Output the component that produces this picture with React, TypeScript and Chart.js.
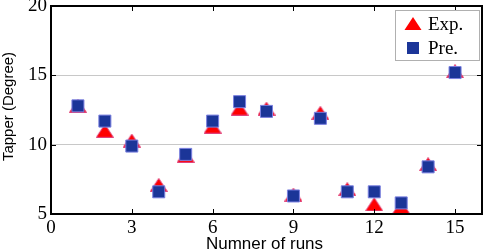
import React, { useEffect, useRef } from "react";
import { Chart, registerables } from "chart.js";

Chart.register(...registerables);

const runs = [1, 2, 3, 4, 5, 6, 7, 8, 9, 10, 11, 12, 13, 14, 15];
const expValues = [12.8, 11.0, 10.3, 7.1, 9.2, 11.3, 12.6, 12.6, 6.4, 12.3, 6.8, 5.7, 5.5, 8.6, 15.3];
const preValues = [12.8, 11.7, 9.9, 6.6, 9.3, 11.7, 13.1, 12.4, 6.3, 11.9, 6.6, 6.6, 5.8, 8.4, 15.2];
const xTicks = [0, 3, 6, 9, 12, 15];
const yTicks = [5, 10, 15, 20];
const legendLabels = ["Exp.", "Pre."];
const xTitle = "Numner of runs";
const yTitle = "Tapper (Degree)";

const RED = "#ff0000";
const BLUE = "#1b3598";
const EDGE = "#7b80e0";
const SERIF = "'Liberation Serif', 'Times New Roman', serif";
const SANS = "'Liberation Sans', Arial, sans-serif";

function makeTriangle(): HTMLCanvasElement {
  const c = document.createElement("canvas");
  c.width = 18;
  c.height = 14;
  const g = c.getContext("2d")!;
  g.beginPath();
  g.moveTo(9, 0.5);
  g.lineTo(17.5, 13.5);
  g.lineTo(0.5, 13.5);
  g.closePath();
  g.fillStyle = RED;
  g.fill();
  g.strokeStyle = "#e0407a";
  g.lineWidth = 1;
  g.stroke();
  return c;
}

const framePlugin = {
  id: "frame",
  afterDraw(chart: any) {
    const { ctx, chartArea: a, scales } = chart;
    ctx.save();
    ctx.strokeStyle = "#000";
    ctx.lineWidth = 1;
    ctx.beginPath();
    yTicks.forEach((v) => {
      const y = Math.round(scales.y.getPixelForValue(v)) + 0.5;
      ctx.moveTo(a.left, y);
      ctx.lineTo(a.left + 5, y);
      ctx.moveTo(a.right, y);
      ctx.lineTo(a.right - 5, y);
    });
    xTicks.forEach((v) => {
      const x = Math.round(scales.x.getPixelForValue(v)) + 0.5;
      ctx.moveTo(x, a.bottom);
      ctx.lineTo(x, a.bottom - 5);
      ctx.moveTo(x, a.top);
      ctx.lineTo(x, a.top + 5);
    });
    ctx.stroke();
    ctx.lineWidth = 2;
    ctx.strokeRect(a.left, a.top, a.right - a.left, a.bottom - a.top);
    // legend
    const lx = 395, ly = 10, lw = 84, lh = 50;
    ctx.fillStyle = "#fff";
    ctx.fillRect(lx, ly, lw, lh);
    ctx.lineWidth = 1;
    ctx.strokeStyle = "#b0b0b0";
    ctx.strokeRect(lx + 0.5, ly + 0.5, lw, lh);
    const tx = 413, ty = 24;
    ctx.beginPath();
    ctx.moveTo(tx, ty - 7);
    ctx.lineTo(tx + 8.5, ty + 6);
    ctx.lineTo(tx - 8.5, ty + 6);
    ctx.closePath();
    ctx.fillStyle = RED;
    ctx.fill();
    const sx = 413, sy = 48, s = 6;
    ctx.fillStyle = BLUE;
    ctx.fillRect(sx - s, sy - s, 2 * s, 2 * s);
    ctx.fillStyle = "#000";
    ctx.font = "19px " + SERIF;
    ctx.textBaseline = "middle";
    ctx.textAlign = "left";
    ctx.fillText(legendLabels[0], 428, 25);
    ctx.fillText(legendLabels[1], 428, 49);
    // axis titles
    ctx.font = "17px " + SANS;
    ctx.textAlign = "center";
    ctx.textBaseline = "alphabetic";
    ctx.fillText(xTitle, (a.left + a.right) / 2 - 2, 249);
    ctx.save();
    ctx.translate(13, 106.5);
    ctx.rotate(-Math.PI / 2);
    ctx.font = "15px " + SANS;
    ctx.fillText(yTitle, 0, 0);
    ctx.restore();
    ctx.restore();
  },
};

export default function App() {
  const ref = useRef<HTMLCanvasElement>(null);
  useEffect(() => {
    document.body.style.margin = "0";
    const tri = makeTriangle();
    const chart = new Chart(ref.current!, {
      type: "scatter",
      data: {
        datasets: [
          {
            label: legendLabels[0],
            data: runs.map((x, i) => ({ x, y: expValues[i] })),
            pointStyle: tri as any,
            pointRadius: 9,
            pointHoverRadius: 9,
            backgroundColor: RED,
            borderColor: "#e0407a",
            borderWidth: 1,
            order: 2,
          },
          {
            label: legendLabels[1],
            data: runs.map((x, i) => ({ x, y: preValues[i] })),
            pointStyle: "rect",
            pointRadius: 8.5,
            pointHoverRadius: 8.5,
            backgroundColor: BLUE,
            borderColor: EDGE,
            borderWidth: 1,
            order: 1,
          },
        ],
      },
      options: {
        animation: false,
        responsive: false,
        maintainAspectRatio: false,
        layout: { autoPadding: false, padding: { top: 6, right: 2, left: 0, bottom: 0 } },
        plugins: { legend: { display: false }, tooltip: { enabled: false } },
        scales: {
          x: {
            type: "linear",
            min: 0,
            max: 16,
            afterBuildTicks: (s: any) => {
              s.ticks = xTicks.map((v) => ({ value: v }));
            },
            afterFit: (s: any) => {
              s.height = 35;
              s.paddingLeft = 0;
              s.paddingRight = 0;
            },
            grid: { display: false, drawTicks: false },
            border: { display: false },
            ticks: {
              color: "#000",
              padding: 3,
              maxRotation: 0,
              font: { family: SERIF, size: 19 },
            },
          },
          y: {
            min: 5,
            max: 20,
            afterBuildTicks: (s: any) => {
              s.ticks = yTicks.map((v) => ({ value: v }));
            },
            afterFit: (s: any) => {
              s.width = 51;
              s.paddingTop = 0;
              s.paddingBottom = 0;
            },
            grid: {
              drawTicks: false,
              color: (c: any) => (c.tick && (c.tick.value === 10 || c.tick.value === 15) ? "#c8c8c8" : "rgba(0,0,0,0)"),
              lineWidth: 1,
            },
            border: { display: false },
            ticks: {
              color: "#000",
              padding: 4,
              font: { family: SERIF, size: 19 },
            },
          },
        },
      },
      plugins: [framePlugin],
    });
    return () => chart.destroy();
  }, []);
  return (
    <div style={{ position: "absolute", left: 0, top: 0, width: 484, height: 249, background: "#fff" }}>
      <canvas ref={ref} width={484} height={249} style={{ width: 484, height: 249 }} />
    </div>
  );
}
